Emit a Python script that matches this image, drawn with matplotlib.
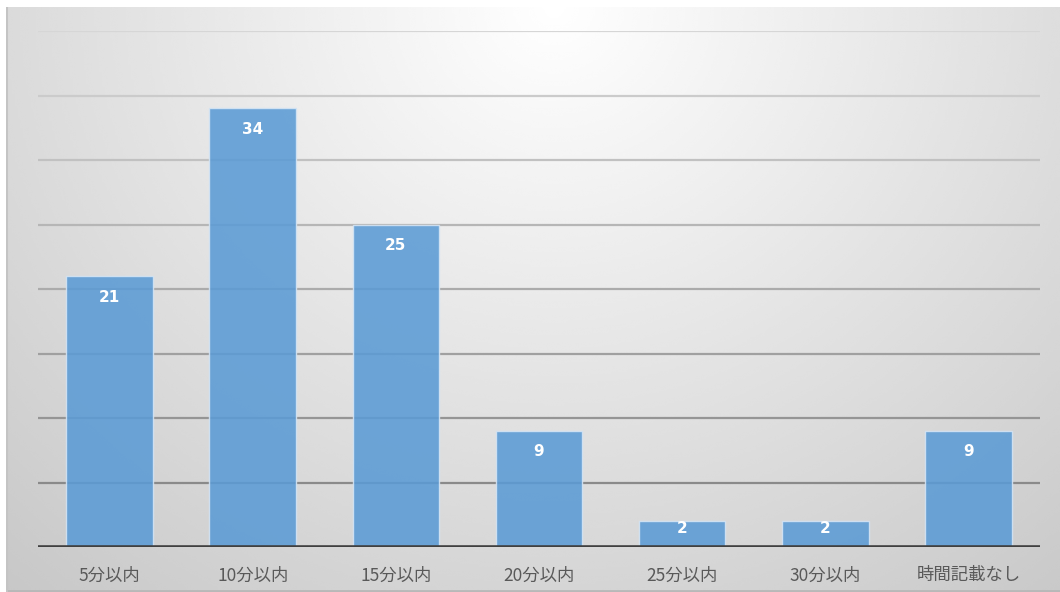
import numpy as np
import matplotlib
matplotlib.use('Agg')
import matplotlib.pyplot as plt

plt.rcParams['font.family'] = ['Noto Sans CJK JP', 'DejaVu Sans']

# ==========================================
# データ
# ==========================================
categories = ['5分以内', '10分以内', '15分以内', '20分以内', '25分以内', '30分以内', '時間記載なし']
counts = [21, 34, 25, 9, 2, 2, 9]
y_ticks = [0, 5, 10, 15, 20, 25, 30, 35, 40]

W, H = 1060, 592
fig = plt.figure(figsize=(W / 100, H / 100), dpi=100)
fig.patch.set_facecolor('white')

# 背景 (放射状グラデーション)
bg = fig.add_axes([6 / W, 0, (W - 6) / W, (H - 7) / H])
gx, gy = np.meshgrid(np.linspace(0, 1, 400), np.linspace(0, 1, 240))
dist = np.sqrt(((gx - 0.52) / 0.6) ** 2 + ((gy - 0.0) / 1.0) ** 2)
shade = 1.0 - 0.165 * dist
bg.imshow(shade, cmap='gray', vmin=0, vmax=1, aspect='auto',
          extent=[0, 1, 1, 0], interpolation='bicubic')
bg.plot([0, 1], [0.002, 0.002], color='#b8b8b8', lw=2, transform=bg.transAxes)
bg.plot([0.001, 0.001], [0, 1], color='#c4c4c4', lw=1.5, transform=bg.transAxes)
bg.set_xlim(0, 1)
bg.set_ylim(1, 0)
bg.axis('off')

ax = fig.add_axes([38 / W, 1 - 547 / H, (1040 - 38) / W, (547 - 31) / H])
ax.patch.set_alpha(0)

x = np.arange(len(categories))
ax.set_xlim(-0.5, len(categories) - 0.5)
ax.set_ylim(0, 40)

# グリッド線 (上ほど薄い)
for t in y_ticks[1:]:
    f = t / 40
    c = 0.50 + 0.34 * f
    ax.axhline(t, color=(c, c, c), lw=1.6, zorder=1)

ax.bar(x, counts, width=0.605, color='#5b9bd5', alpha=0.88,
       edgecolor='#d5e5f5', linewidth=1.0, zorder=2)

for xi, v in zip(x, counts):
    off = min(1.63, v * 0.27)
    ax.text(xi, v - off, str(v), ha='center', va='center', color='white',
            fontsize=11, fontweight='bold', family=['DejaVu Sans'], zorder=3)

ax.axhline(0, color='#404040', lw=2.6, zorder=4)

ax.set_xticks(x)
ax.set_xticklabels(categories, fontsize=12.5, color='#595959')
ax.tick_params(axis='x', length=0, pad=14)
ax.set_yticks([])
for s in ax.spines.values():
    s.set_visible(False)

fig.savefig('out.png', dpi=100)
